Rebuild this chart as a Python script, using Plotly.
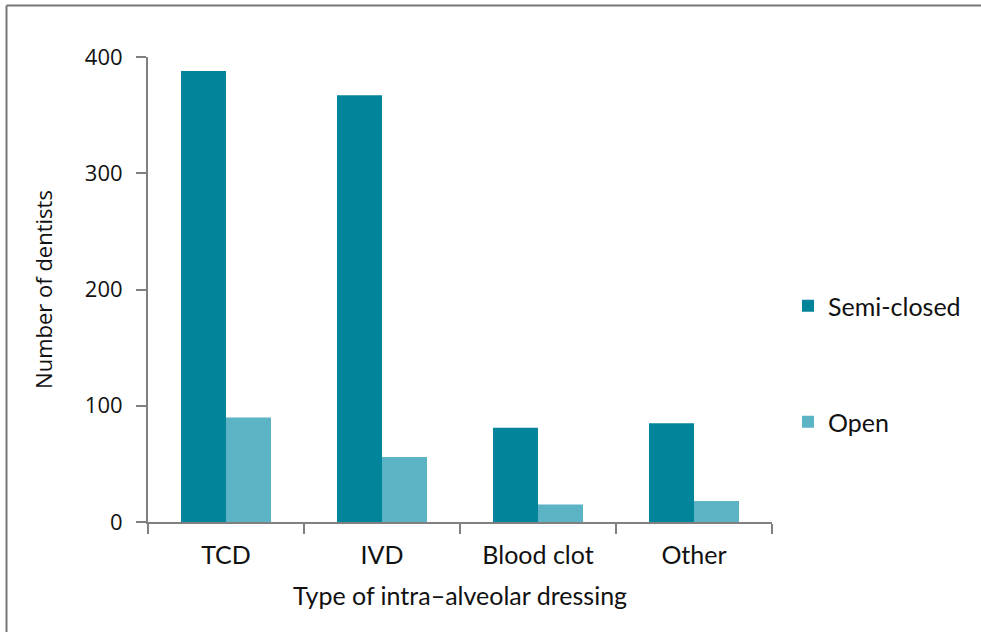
import plotly.graph_objects as go

categories = ["TCD", "IVD", "Blood clot", "Other"]
semi_closed = [388, 367, 81, 85]
open_vals = [90, 56, 15, 18]
y_ticks = [0, 100, 200, 300, 400]

W, H = 981, 632
L, R, T, B = 148, 772, 57, 522
pw, ph = R - L, B - T

def px(x):
    return (x - L) / pw

def py(y):
    return (B - y) / ph

fig = go.Figure()
fig.add_trace(go.Bar(x=categories, y=semi_closed, name="Semi-closed", showlegend=True,
                     marker=dict(color="#02849A", line=dict(width=0)), legend="legend"))
fig.add_trace(go.Bar(x=categories, y=open_vals, name="Open", showlegend=True,
                     marker=dict(color="#5BB3C4", line=dict(width=0)), legend="legend2"))

axis_color = "#808080"
lab_font = dict(family="Lato", size=25, color="#111111")
num_font = dict(family="Open Sans", size=22, color="#111111")
fig.update_layout(
    width=W, height=H,
    margin=dict(l=L, r=W - R, t=T, b=H - B, autoexpand=False),
    paper_bgcolor="white", plot_bgcolor="white",
    showlegend=True,
    barmode="group", bargap=0.423, bargroupgap=0,
    font=dict(family="Open Sans", color="#111111"),
    xaxis=dict(
        showline=True, linecolor=axis_color, linewidth=2,
        ticks="outside", ticklen=10, tickcolor=axis_color, tickwidth=2,
        tickson="boundaries", ticklabelstandoff=10,
        tickfont=lab_font,
        title=dict(text="Type of intra\u2013alveolar dressing", font=lab_font, standoff=19),
        showgrid=False, automargin=False,
    ),
    yaxis=dict(
        range=[0, 400], tickvals=y_ticks,
        showline=True, linecolor=axis_color, linewidth=2,
        ticks="outside", ticklen=10, tickcolor=axis_color, tickwidth=2,
        tickfont=num_font, ticklabelstandoff=9,
        title=dict(text="Number of dentists", font=num_font, standoff=26),
        showgrid=False, zeroline=False, automargin=False,
    ),
    legend=dict(x=px(788), y=py(306), xanchor="left", yanchor="middle",
                font=lab_font, bgcolor="rgba(0,0,0,0)", itemwidth=30),
    legend2=dict(x=px(788), y=py(422), xanchor="left", yanchor="middle",
                 font=lab_font, bgcolor="rgba(0,0,0,0)", itemwidth=30),
    shapes=[
        dict(type="line", xref="paper", yref="paper",
             x0=px(6.5), x1=px(W + 5), y0=py(5.5), y1=py(5.5),
             line=dict(color="#777777", width=2)),
        dict(type="line", xref="paper", yref="paper",
             x0=px(6.5), x1=px(6.5), y0=py(5.5), y1=py(H + 5),
             line=dict(color="#777777", width=2)),
    ],
)

fig.write_html("out.html", config={"displayModeBar": False},
               post_script="document.body.style.margin='0';")
